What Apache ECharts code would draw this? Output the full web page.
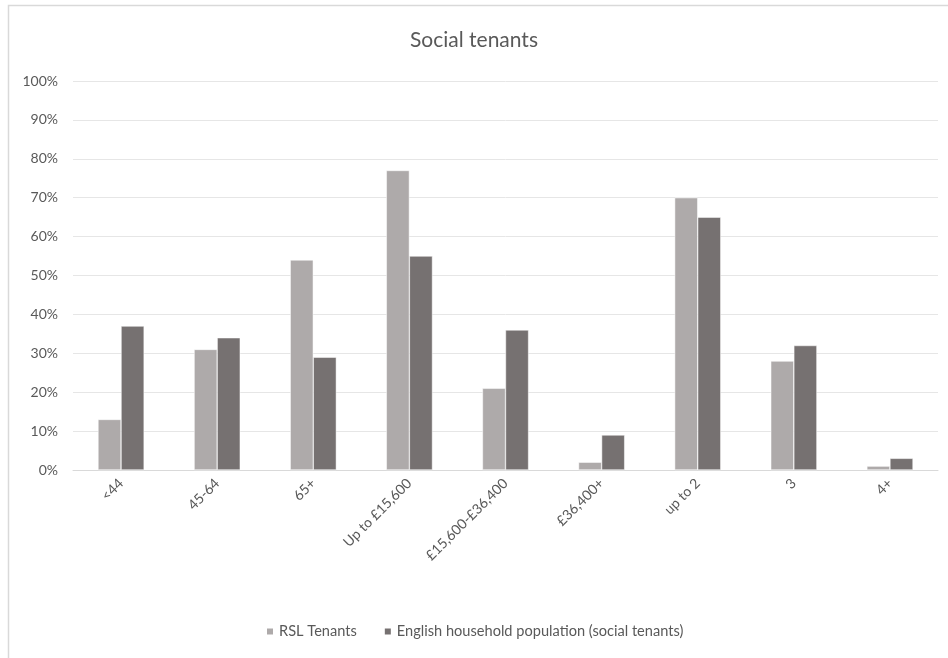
<!DOCTYPE html>
<html>
<head>
<meta charset="utf-8">
<script src="https://cdn.jsdelivr.net/npm/echarts@6/dist/echarts.min.js"></script>
<style>
  html, body { margin: 0; padding: 0; background: #ffffff; }
  #chart { width: 948px; height: 658px; }
</style>
</head>
<body>
<div id="chart"></div>
<script>
// Age band, income band and household size groups
const categories = ['<44', '45-64', '65+', 'Up to £15,600', '£15,600-£36,400', '£36,400+', 'up to 2', '3', '4+'];
// Share of households (%) in each group
const rslTenants = [13, 31, 54, 77, 21, 2, 70, 28, 1];
const englishSocialTenants = [37, 34, 29, 55, 36, 9, 65, 32, 3];
const yTicks = [0, 10, 20, 30, 40, 50, 60, 70, 80, 90, 100];

const font = 'Lato, "Open Sans", "Liberation Sans", sans-serif';
const textColor = '#595959';

const chart = echarts.init(document.getElementById('chart'), null, { renderer: 'canvas' });
chart.setOption({
  animation: false,
  backgroundColor: '#ffffff',
  textStyle: { fontFamily: font },
  graphic: [{
    type: 'rect',
    shape: { x: 8.5, y: 5.5, width: 960, height: 700 },
    style: { fill: 'none', stroke: '#d9d9d9', lineWidth: 1.5 },
    silent: true
  }],
  title: {
    text: 'Social tenants',
    left: 'center',
    top: 25,
    textStyle: { fontFamily: font, fontSize: 21, fontWeight: 'normal', color: textColor }
  },
  legend: {
    bottom: 14,
    left: 260,
    itemWidth: 8,
    itemHeight: 8,
    itemGap: 26,
    icon: 'rect',
    textStyle: { fontFamily: font, fontSize: 14.6, color: textColor },
    data: ['RSL Tenants', 'English household population (social tenants)']
  },
  grid: { left: 73, right: 10, top: 81, bottom: 188, containLabel: false },
  xAxis: {
    type: 'category',
    data: categories,
    axisLine: { lineStyle: { color: '#d9d9d9', width: 1 } },
    axisTick: { show: false },
    axisLabel: {
      rotate: 45,
      interval: 0,
      fontFamily: font,
      fontSize: 14,
      color: textColor,
      margin: 11
    }
  },
  yAxis: {
    type: 'value',
    min: yTicks[0],
    max: yTicks[yTicks.length - 1],
    interval: 10,
    axisLine: { show: false },
    axisTick: { show: false },
    splitLine: { lineStyle: { color: '#e6e6e6', width: 1 } },
    axisLabel: {
      formatter: v => v + '%',
      fontFamily: font,
      fontSize: 14,
      color: textColor,
      margin: 15
    }
  },
  series: [
    {
      name: 'RSL Tenants',
      type: 'bar',
      data: rslTenants,
      barWidth: '24%',
      barGap: '0%',
      itemStyle: { color: '#aeaaaa', borderColor: '#ffffff', borderWidth: 0.5 }
    },
    {
      name: 'English household population (social tenants)',
      type: 'bar',
      data: englishSocialTenants,
      barWidth: '24%',
      barGap: '0%',
      itemStyle: { color: '#767171', borderColor: '#ffffff', borderWidth: 0.5 }
    }
  ]
});
</script>
</body>
</html>
